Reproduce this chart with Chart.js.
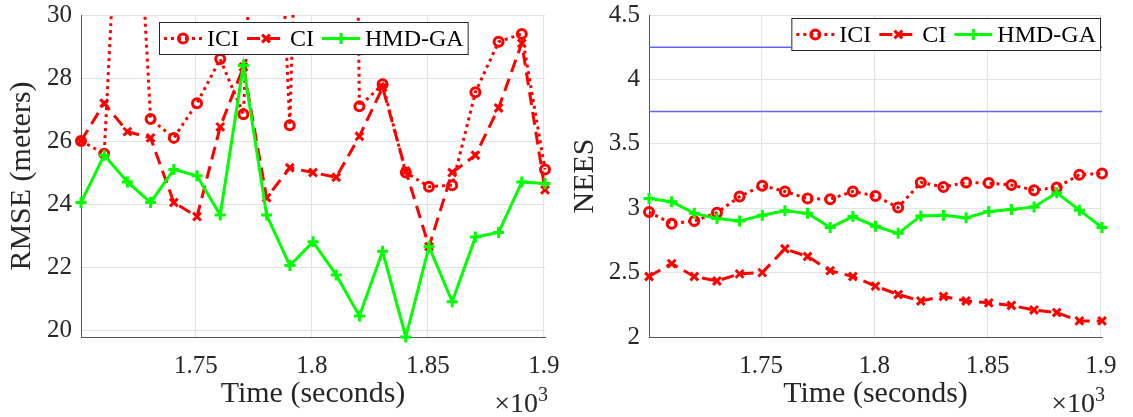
<!DOCTYPE html>
<html>
<head>
<meta charset="utf-8">
<script src="https://cdn.jsdelivr.net/npm/chart.js"></script>
<style>
  body { margin: 0; background: #fff; }
  #wrap { position: relative; width: 1133px; height: 417px; }
  canvas { position: absolute; top: 0; }
</style>
</head>
<body>
<div id="wrap">
  <canvas id="rmseChart" width="565" height="417" style="left:0"></canvas>
  <canvas id="neesChart" width="568" height="417" style="left:565px"></canvas>
</div>
<script>
// time stamps (seconds)
const times = [1700.5, 1710.5, 1720.5, 1730.5, 1740.5, 1750.5, 1760.5, 1770.5, 1780.5, 1790.5, 1800.5,
               1810.5, 1820.5, 1830.5, 1840.5, 1850.5, 1860.5, 1870.5, 1880.5, 1890.5, 1900.5];
const xTicks = [1750, 1800, 1850, 1900];
const xTickLabels = ['1.75', '1.8', '1.85', '1.9'];
const rmseTicks = [20, 22, 24, 26, 28, 30];
const neesTicks = [2, 2.5, 3, 3.5, 4, 4.5];

// RMSE (meters)
const rmseICI = [26.0, 25.6, 40, 26.7, 26.1, 27.2, 28.6, 26.85, 43, 26.5, 52,
                 85, 27.1, 27.8, 25.0, 24.55, 24.6, 27.55, 29.15, 29.4, 25.1];
const rmseCI  = [26.0, 27.2, 26.3, 26.1, 24.05, 23.6, 26.45, 28.35, 24.2, 25.15, 25.0,
                 24.85, 26.15, 27.7, 25.05, 22.65, 25.0, 25.55, 27.05, 29.1, 24.45];
const rmseHMD = [24.05, 25.55, 24.7, 24.05, 25.1, 24.9, 23.65, 28.4, 23.65, 22.05, 22.8,
                 21.75, 20.45, 22.5, 19.78, 22.65, 20.9, 22.95, 23.1, 24.7, 24.65];

// NEES
const neesICI = [2.97, 2.88, 2.9, 2.965, 3.09, 3.175, 3.13, 3.075, 3.07, 3.13, 3.095,
                 3.005, 3.2, 3.165, 3.2, 3.195, 3.18, 3.14, 3.16, 3.26, 3.27];
const neesCI  = [2.47, 2.57, 2.47, 2.435, 2.49, 2.5, 2.685, 2.625, 2.515, 2.47, 2.395,
                 2.33, 2.28, 2.315, 2.28, 2.265, 2.245, 2.21, 2.19, 2.125, 2.125];
const neesHMD = [3.075, 3.05, 2.96, 2.92, 2.9, 2.945, 2.98, 2.96, 2.85, 2.935, 2.86,
                 2.805, 2.94, 2.945, 2.925, 2.975, 2.99, 3.01, 3.12, 2.985, 2.85];
const neesBounds = [3.75, 4.25];

const serif = '"Liberation Serif", "Times New Roman", serif';
const red = '#ff0000';
const green = '#00ff00';
Chart.defaults.font.family = serif;
Chart.defaults.color = '#262626';

function points(values) {
    return values.map((v, i) => ({ x: times[i], y: v }));
}

function series(label, values, kind) {
    var base = {
        label: label,
        data: points(values),
        borderWidth: 3,
        pointBorderWidth: 3,
        pointBackgroundColor: 'rgba(0,0,0,0)',
        tension: 0,
        borderCapStyle: 'butt'
    };
    if (kind === 'ici') {
        return Object.assign(base, { borderColor: red, pointBorderColor: red, borderDash: [3, 4],
            pointStyle: 'circle', pointRadius: 4.5, order: 3 });
    }
    if (kind === 'ci') {
        return Object.assign(base, { borderColor: red, pointBorderColor: red, borderDash: [13, 7],
            pointStyle: 'crossRot', pointRadius: 5.5, order: 2 });
    }
    return Object.assign(base, { borderColor: green, pointBorderColor: green, borderDash: [],
        pointStyle: 'cross', pointRadius: 5.5, order: 1 });
}

function drawMarker(ctx, style, x, y, r) {
    ctx.beginPath();
    if (style === 'circle') {
        ctx.arc(x, y, r, 0, Math.PI * 2);
    } else if (style === 'cross') {
        ctx.moveTo(x - r, y); ctx.lineTo(x + r, y);
        ctx.moveTo(x, y - r); ctx.lineTo(x, y + r);
    } else {
        var d = r * Math.SQRT1_2;
        ctx.moveTo(x - d, y - d); ctx.lineTo(x + d, y + d);
        ctx.moveTo(x - d, y + d); ctx.lineTo(x + d, y - d);
    }
    ctx.stroke();
}

// matlab style legend box with line samples
const legendBox = {
    id: 'legendBox',
    afterDraw(chart, args, opts) {
        const ctx = chart.ctx;
        const area = chart.chartArea;
        const items = chart.data.datasets.filter(d => !d.noLegend);
        const sample = 38, pad = 5, gap = 5, sep = 8, h = 32;
        ctx.save();
        ctx.font = '24px ' + serif;
        let w = pad + 4 - sep;
        items.forEach(d => { w += sample + gap + ctx.measureText(d.label).width + sep; });
        const x0 = opts.align === 'right' ? area.right - opts.offsetX - w : Math.round((area.left + area.right - w) / 2);
        const y0 = area.top + opts.offsetY;
        ctx.fillStyle = '#fff';
        ctx.fillRect(x0, y0, w, h);
        ctx.strokeStyle = '#262626';
        ctx.lineWidth = 1;
        ctx.strokeRect(x0 + 0.5, y0 + 0.5, w, h);
        const cy = y0 + h / 2 + 0.5;
        let x = x0 + pad;
        items.forEach(d => {
            ctx.strokeStyle = d.borderColor;
            ctx.lineWidth = d.borderWidth;
            ctx.lineCap = 'butt';
            ctx.setLineDash(d.borderDash);
            ctx.beginPath();
            ctx.moveTo(x, cy);
            ctx.lineTo(x + sample, cy);
            ctx.stroke();
            ctx.setLineDash([]);
            ctx.lineWidth = d.pointBorderWidth;
            drawMarker(ctx, d.pointStyle, x + sample / 2, cy, d.pointRadius);
            x += sample + gap;
            ctx.fillStyle = '#000';
            ctx.textBaseline = 'middle';
            ctx.fillText(d.label, x, cy + 1);
            x += ctx.measureText(d.label).width + sep;
        });
        ctx.restore();
    }
};

// x10^3 multiplier under the x axis
const expLabel = {
    id: 'expLabel',
    afterDraw(chart) {
        const ctx = chart.ctx;
        const right = chart.chartArea.right + 3;
        ctx.save();
        ctx.fillStyle = '#262626';
        ctx.textBaseline = 'alphabetic';
        ctx.font = '20px ' + serif;
        const supW = ctx.measureText('3').width;
        ctx.textAlign = 'right';
        ctx.fillText('3', right, 401);
        ctx.font = '28px ' + serif;
        ctx.fillText('\u00d710', right - supW, 412);
        ctx.restore();
    }
};

function noOverflow(s) {
    s.paddingTop = 0;
    s.paddingBottom = 0;
    s.paddingLeft = 0;
    s.paddingRight = 0;
}

function makeChart(canvasId, datasets, y, legendOpts, layoutPad) {
    return new Chart(document.getElementById(canvasId), {
        type: 'line',
        data: { datasets: datasets },
        plugins: [legendBox, expLabel],
        options: {
            responsive: false,
            animation: false,
            layout: { padding: layoutPad },
            plugins: {
                legend: { display: false },
                tooltip: { enabled: false },
                legendBox: legendOpts
            },
            scales: {
                x: {
                    type: 'linear',
                    min: times[0],
                    max: times[times.length - 1],
                    afterBuildTicks: s => { s.ticks = xTicks.map(v => ({ value: v })); },
                    afterFit: s => { s.height = 80; noOverflow(s); },
                    ticks: {
                        padding: 14,
                        font: { family: serif, size: 25 },
                        maxRotation: 0,
                        autoSkip: false,
                        callback: v => xTickLabels[xTicks.indexOf(v)]
                    },
                    grid: { color: '#e3e3e3', drawTicks: false },
                    border: { color: '#555', width: 1 },
                    title: { display: true, text: 'Time (seconds)', font: { family: serif, size: 30 }, padding: { top: 0, bottom: 5 } }
                },
                y: {
                    min: y.min,
                    max: y.max,
                    afterBuildTicks: s => { s.ticks = y.ticks.map(v => ({ value: v })); },
                    afterFit: s => { s.width = y.width; noOverflow(s); },
                    ticks: { padding: 9, font: { family: serif, size: 25 }, autoSkip: false, callback: v => String(v) },
                    grid: { color: '#e3e3e3', drawTicks: false },
                    border: { color: '#555', width: 1 },
                    title: { display: true, text: y.title, font: { family: serif, size: 30 }, padding: { top: y.titlePad, bottom: 0 } }
                }
            }
        }
    });
}

var clipTop = { left: 10, right: 10, top: 0, bottom: 10 };
var rmseSets = [
    series('ICI', rmseICI, 'ici'),
    series('CI', rmseCI, 'ci'),
    series('HMD-GA', rmseHMD, 'hmd')
];
rmseSets.forEach(d => { d.clip = clipTop; });

makeChart('rmseChart', rmseSets,
    { min: 19.78, max: 30, ticks: rmseTicks, width: 81, title: 'RMSE (meters)', titlePad: 4 },
    { align: 'center', offsetY: 7, offsetX: 0 },
    { left: 0, top: 15, right: 20, bottom: 0 });

var neesSets = [
    series('ICI', neesICI, 'ici'),
    series('CI', neesCI, 'ci'),
    series('HMD-GA', neesHMD, 'hmd')
];
neesBounds.forEach(b => {
    neesSets.push({
        label: 'bound',
        noLegend: true,
        data: [{ x: times[0], y: b }, { x: times[times.length - 1], y: b }],
        borderColor: '#6464ff',
        borderWidth: 1.5,
        pointRadius: 0,
        order: 4
    });
});
neesSets.forEach(d => { d.clip = 10; });

makeChart('neesChart', neesSets,
    { min: 2, max: 4.5, ticks: neesTicks, width: 84, title: 'NEES', titlePad: 2 },
    { align: 'right', offsetY: 3, offsetX: 2 },
    { left: 0, top: 15, right: 31, bottom: 0 });
</script>
</body>
</html>
